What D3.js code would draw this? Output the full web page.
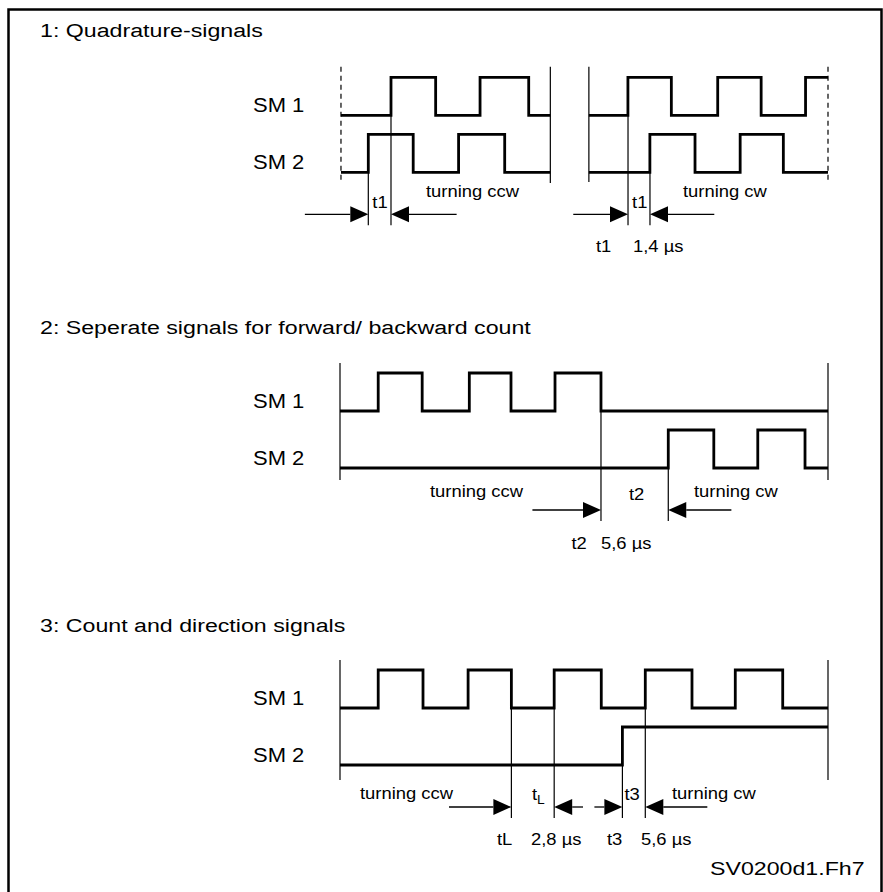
<!DOCTYPE html>
<html><head><meta charset="utf-8">
<script src="https://cdn.jsdelivr.net/npm/d3@7"></script>
<style>body{margin:0;background:#fff}svg{display:block}</style>
</head><body>
<script>
// ---------- data (time axis: 0..100 = signal window) ----------
const sectionTitles = ["1: Quadrature-signals", "2: Seperate signals for forward/ backward count", "3: Count and direction signals"];
const signalNames = ["SM 1", "SM 2"];
// section 1, left panel (turning ccw)
const qCcwSpan = [0.2, 43.1];
const qCcwSM1 = [10.45, 19.6, 28.7, 38.67];
const qCcwSM2 = [5.8, 15.0, 24.3, 33.75];
// section 1, right panel (turning cw)
const qCwSpan = [51.0, 100];
const qCwSM1 = [59.0, 67.9, 77.4, 86.3, 95.4];
const qCwSM2 = [63.5, 72.75, 82.0, 90.85];
// section 2
const sepSpan = [0, 100];
const sepSM1 = [7.83, 16.84, 26.5, 35.04, 44.06, 53.48];
const sepSM2 = [67.27, 76.6, 85.61, 95.29];
// section 3
const dirSpan = [0, 100];
const dirSM1 = [7.83, 17.01, 26.25, 35.12, 43.89, 53.54, 62.56, 72.13, 81.0, 90.72];
const dirSM2 = [57.87];
// timing marks [start, end] and arrow tails
const t1Ccw = [5.8, 10.45], t1CcwTails = [-7.2, 23.9];
const t1Cw = [59.02, 63.52], t1CwTails = [47.8, 76.7];
const t2Mark = [53.48, 67.27], t2Tails = [39.43, 80.2];
const tLMark = [35.12, 43.89], tLTails = [22.34, 49.8];
const t3Mark = [57.87, 62.56], t3Tails = [52.13, 75.27];
const timingValues = [["t1", "1,4 µs"], ["t2", "5,6 µs"], ["tL", "2,8 µs"], ["t3", "5,6 µs"]];
const directionLabels = ["turning ccw", "turning cw"];
const figureId = "SV0200d1.Fh7";

// ---------- drawing ----------
const W = 883, H = 892;
const FONT = "'Liberation Sans', Arial, Helvetica, sans-serif";
const svg = d3.select("body").append("svg").attr("width", W).attr("height", H);
svg.append("rect").attr("width", W).attr("height", H).attr("fill", "#fff");
svg.append("rect").attr("x", 8.5).attr("y", 9.5).attr("width", 873).attr("height", 910)
  .attr("fill", "none").attr("stroke", "#000").attr("stroke-width", 2.5);

const x = d3.scaleLinear().domain([0, 100]).range([340, 828]);
const secY = [77.3, 373, 670];
const rowGap = 57, amp = 38;
function yScale(sec, row) {
  const top = secY[sec] + row * rowGap;
  return d3.scaleLinear().domain([0, 1]).range([top + amp, top]);
}
function wave(span, edges, start) {
  const pts = [[span[0], start]]; let lv = start;
  edges.forEach(e => { pts.push([e, lv]); lv = 1 - lv; pts.push([e, lv]); });
  pts.push([span[1], lv]); return pts;
}
function drawWave(sec, row, span, edges) {
  const y = yScale(sec, row);
  svg.append("path").datum(wave(span, edges, 0))
    .attr("d", d3.line().x(d => x(d[0])).y(d => y(d[1])))
    .attr("fill", "none").attr("stroke", "#000").attr("stroke-width", 2.8)
    .attr("stroke-linejoin", "miter");
}
function vline(t, y1, y2, dashed) {
  svg.append("line").attr("x1", x(t)).attr("x2", x(t)).attr("y1", y1).attr("y2", y2)
    .attr("stroke", "#000").attr("stroke-width", 1.2)
    .attr("stroke-dasharray", dashed ? "5,4" : null);
}
function txt(s, xp, yp, fs, sx) {
  return svg.append("text").attr("transform", `translate(${xp},${yp}) scale(${sx},1)`)
    .attr("font-size", fs).attr("font-family", FONT).attr("fill", "#000").text(s);
}
function arrow(tTail, tHead, yA) {
  const xh = x(tHead), xt = x(tTail), dir = Math.sign(xh - xt), L = 18, hw = 8;
  svg.append("line").attr("x1", xt).attr("x2", xh - dir * L).attr("y1", yA).attr("y2", yA)
    .attr("stroke", "#000").attr("stroke-width", 1.3);
  svg.append("path").attr("d", `M${xh},${yA}L${xh - dir * L},${yA - hw}L${xh - dir * L},${yA + hw}Z`).attr("fill", "#000");
}
function mark(sec, m, tails, rows) {
  const Y0 = secY[sec], yA = Y0 + 137, yB = Y0 + 148;
  vline(m[0], yScale(sec, rows[0])(1), yB);
  vline(m[1], yScale(sec, rows[1])(1), yB);
  arrow(tails[0], m[0], yA);
  arrow(tails[1], m[1], yA);
}

// titles
const titleBase = [36.7, 334, 632];
sectionTitles.forEach((s, i) => txt(s, 40, titleBase[i], 19, 1.22));
// signal labels
secY.forEach((Y0, i) => {
  txt(signalNames[0], 253, Y0 + 35, 20, 1.1);
  txt(signalNames[1], 253, Y0 + 92, 20, 1.1);
});

// ---- section 1 ----
vline(qCcwSpan[0], 66.7, 182, true);
vline(qCcwSpan[1], 66.7, 183, false);
vline(qCwSpan[0], 66.7, 182, false);
vline(qCwSpan[1], 66.7, 182, true);
drawWave(0, 0, qCcwSpan, qCcwSM1);
drawWave(0, 1, qCcwSpan, qCcwSM2);
drawWave(0, 0, qCwSpan, qCwSM1);
drawWave(0, 1, qCwSpan, qCwSM2);
mark(0, t1Ccw, t1CcwTails, [1, 0]);
mark(0, t1Cw, t1CwTails, [0, 1]);
txt("t1", x(t1Ccw[0]) + 4, 208, 16, 1.15);
txt("t1", x(t1Cw[0]) + 4, 208, 16, 1.15);
txt(directionLabels[0], 426, 197, 16, 1.15);
txt(directionLabels[1], 683, 197, 16, 1.15);
txt(timingValues[0][0], 596, 251.5, 16, 1.15);
txt(timingValues[0][1], 633, 251.5, 16, 1.15);

// ---- section 2 ----
vline(sepSpan[0], 363, 480, false);
vline(sepSpan[1], 363, 480, false);
drawWave(1, 0, sepSpan, sepSM1);
drawWave(1, 1, sepSpan, sepSM2);
mark(1, t2Mark, t2Tails, [0, 1]);
txt(directionLabels[0], 430, 497, 16, 1.15);
txt("t2", 629, 500, 16, 1.15);
txt(directionLabels[1], 694, 497, 16, 1.15);
txt(timingValues[1][0], 571.5, 549, 16, 1.15);
txt(timingValues[1][1], 601, 549, 16, 1.15);

// ---- section 3 ----
vline(dirSpan[0], 660, 780, false);
vline(dirSpan[1], 660, 780, false);
drawWave(2, 0, dirSpan, dirSM1);
drawWave(2, 1, dirSpan, dirSM2);
mark(2, tLMark, tLTails, [0, 0]);
mark(2, t3Mark, t3Tails, [1, 0]);
txt(directionLabels[0], 360, 799, 16, 1.15);
const tl = txt("t", 532, 800, 16, 1.15);
tl.append("tspan").attr("dy", 4).attr("font-size", 12).text("L");
txt("t3", 624.5, 800, 16, 1.15);
txt(directionLabels[1], 672, 799, 16, 1.15);
txt(timingValues[2][0], 497, 844.5, 16, 1.15);
txt(timingValues[2][1], 531, 844.5, 16, 1.15);
txt(timingValues[3][0], 607, 844.5, 16, 1.15);
txt(timingValues[3][1], 641, 844.5, 16, 1.15);

txt(figureId, 710, 875, 19, 1.22);
</script>
</body></html>
